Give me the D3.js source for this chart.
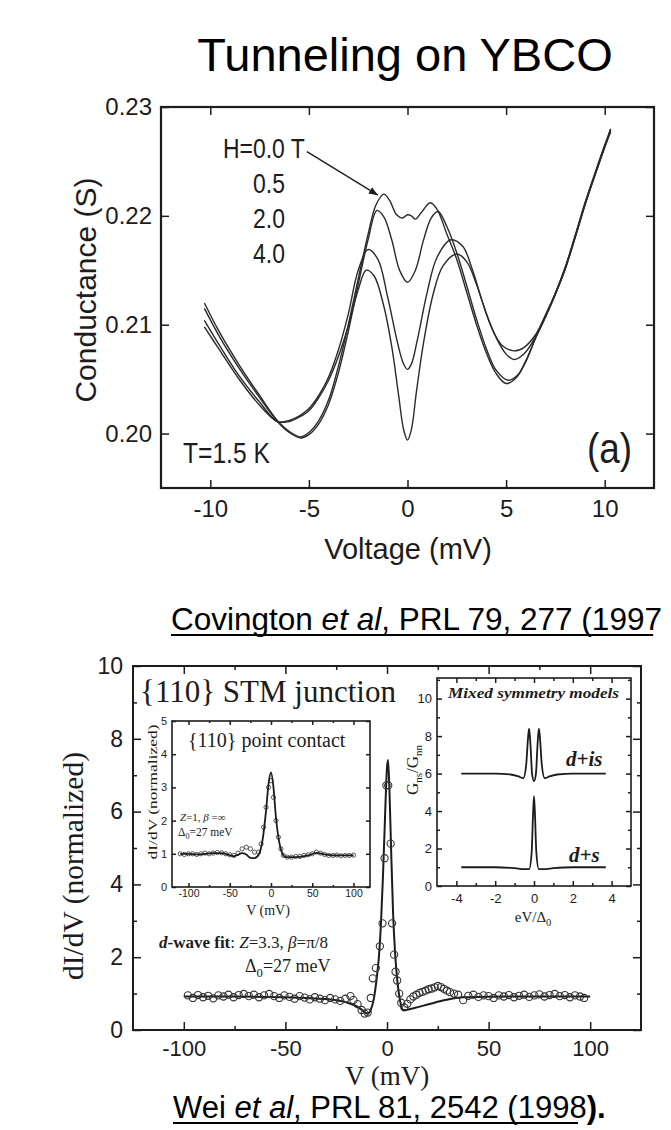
<!DOCTYPE html>
<html>
<head>
<meta charset="utf-8">
<script src="https://cdn.jsdelivr.net/npm/d3@7/dist/d3.min.js"></script>
<style>
  body { margin: 0; background: #fff; }
  svg { display: block; }
</style>
</head>
<body>
<svg id="fig" width="671" height="1130"></svg>
<script>
'use strict';

// ---------- top panel : Covington et al, conductance vs voltage ----------
// [voltage mV, conductance S], one array per field
var h00 = [[-10.3,0.2120],[-9.5,0.2092],[-8.5,0.2062],[-7.5,0.2035],[-6.6,0.2012],[-6.0,0.2002],[-5.4,0.1997],[-5.0,0.2001],
  [-4.5,0.2012],[-4.0,0.2031],[-3.5,0.2062],[-3.0,0.2100],[-2.5,0.2142],[-2.0,0.2183],[-1.6,0.2210],[-1.2,0.2220],[-0.9,0.2214],
  [-0.55,0.2201],[-0.25,0.2198],[0.0,0.2201],[0.2,0.2200],[0.4,0.2197],[0.7,0.2203],[1.15,0.2212],[1.5,0.2206],[2.0,0.2183],
  [2.5,0.2160],[3.0,0.2130],[3.5,0.2100],[4.0,0.2074],[4.5,0.2055],[5.0,0.2046],[5.5,0.2051],[6.0,0.2066],[6.5,0.2088],
  [7.0,0.2107],[7.5,0.2128],[8.0,0.2152],[8.5,0.2181],[9.0,0.2211],[9.5,0.2238],[10.0,0.2264],[10.3,0.2280]];
var h05 = [[-10.3,0.2115],[-9.5,0.2088],[-8.5,0.2059],[-7.5,0.2033],[-6.6,0.2011],[-6.0,0.2001],[-5.4,0.1996],[-5.0,0.1999],
  [-4.5,0.2009],[-4.0,0.2027],[-3.5,0.2056],[-3.0,0.2094],[-2.5,0.2137],[-2.0,0.2178],[-1.55,0.2205],[-1.2,0.2199],[-0.8,0.2178],
  [-0.4,0.2150],[0.0,0.2139],[0.4,0.2150],[0.8,0.2177],[1.2,0.2198],[1.55,0.2204],[2.0,0.2190],[2.5,0.2166],[3.0,0.2136],
  [3.5,0.2105],[4.0,0.2078],[4.5,0.2058],[5.1,0.2049],[5.6,0.2054],[6.0,0.2067],[6.5,0.2088],[7.0,0.2108],[7.5,0.2129],
  [8.0,0.2153],[8.5,0.2182],[9.0,0.2212],[9.5,0.2239],[10.0,0.2265],[10.3,0.2279]];
var h20 = [[-10.3,0.2104],[-9.5,0.2080],[-8.5,0.2052],[-7.5,0.2029],[-6.6,0.2011],[-6.0,0.2012],[-5.5,0.2016],[-5.0,0.2023],
  [-4.5,0.2035],[-4.0,0.2052],[-3.5,0.2077],[-3.0,0.2110],[-2.5,0.2150],[-2.0,0.2169],[-1.5,0.2160],[-1.0,0.2125],[-0.5,0.2083],
  [-0.2,0.2064],[0.0,0.2059],[0.2,0.2064],[0.5,0.2086],[1.0,0.2130],[1.5,0.2162],[2.2,0.2178],[2.8,0.2172],[3.3,0.2150],
  [3.8,0.2121],[4.3,0.2096],[4.8,0.2081],[5.4,0.2076],[5.9,0.2079],[6.5,0.2091],[7.0,0.2109],[7.5,0.2129],[8.0,0.2152],
  [8.5,0.2180],[9.0,0.2210],[9.5,0.2237],[10.0,0.2263],[10.3,0.2277]];
var h40 = [[-10.3,0.2098],[-9.5,0.2076],[-8.5,0.2049],[-7.5,0.2026],[-6.6,0.2011],[-6.0,0.2011],[-5.5,0.2015],[-5.0,0.2021],
  [-4.5,0.2033],[-4.0,0.2049],[-3.5,0.2071],[-3.0,0.2099],[-2.5,0.2132],[-2.1,0.2150],[-1.7,0.2145],[-1.2,0.2117],[-0.8,0.2080],
  [-0.45,0.2035],[-0.2,0.2004],[0.0,0.1994],[0.2,0.2004],[0.45,0.2038],[0.8,0.2082],[1.3,0.2128],[1.8,0.2154],[2.5,0.2165],
  [3.0,0.2158],[3.5,0.2137],[4.0,0.2110],[4.5,0.2088],[5.0,0.2073],[5.4,0.2068],[5.9,0.2073],[6.5,0.2089],[7.0,0.2108],
  [7.5,0.2128],[8.0,0.2151],[8.5,0.2180],[9.0,0.2210],[9.5,0.2237],[10.0,0.2263],[10.3,0.2278]];
var fieldLabels = ["H=0.0 T", "0.5", "2.0", "4.0"];
var topXTicks = [-10, -5, 0, 5, 10];
var topYTicks = [0.20, 0.21, 0.22, 0.23];
var arrowFrom = [-5.1, 0.2259];   // start of the H=0.0 T pointer (data units)
var arrowTo = [-1.5, 0.2219];

// ---------- bottom panel : Wei et al, {110} STM junction ----------
var mainFit = [[-100,0.92],[-80,0.92],[-60,0.91],[-50,0.90],[-40,0.88],[-30,0.85],[-25,0.82],[-20,0.76],[-16,0.68],[-13,0.58],
  [-11,0.49],[-9.5,0.45],[-8,0.55],[-6.5,0.85],[-5,1.45],[-4,2.0],[-3,2.9],[-2,4.2],[-1,5.8],[0,7.2],[0.5,7.42],[1.2,6.6],
  [2,5.0],[3,3.2],[4,2.1],[5,1.4],[6,0.95],[7,0.66],[8,0.55],[9.5,0.55],[11,0.57],[14,0.61],[18,0.67],[22,0.73],[26,0.79],
  [30,0.84],[34,0.88],[38,0.90],[45,0.91],[60,0.92],[80,0.92],[100,0.92]];
var mainPts = [[-98,0.95],[-95.5,0.88],[-93,0.96],[-90.5,0.90],[-88,0.94],[-85.5,0.87],[-83,0.95],[-80.5,0.92],[-78,0.97],
  [-75.5,0.90],[-73,0.96],[-70.5,0.99],[-68,0.93],[-65.5,0.97],[-63,0.90],[-60.5,0.95],[-58,0.99],[-55.5,0.93],[-53,0.88],
  [-50.5,0.95],[-48,0.91],[-45.5,0.86],[-43,0.93],[-40.5,0.89],[-38,0.84],[-35.5,0.90],[-33,0.86],[-30.5,0.82],[-28,0.88],
  [-25.5,0.84],[-23,0.80],[-20.5,0.86],[-18,0.93],[-16.5,0.82],[-14.5,0.71],[-12.5,0.55],[-11,0.45],[-9.5,0.48],[-8,0.88],
  [-7,1.42],[-5.5,1.70],[-3.5,2.30],[-2.2,2.93],[-1.2,4.72],[-0.3,6.72],[0.6,6.72],[1.8,5.12],[2.5,2.93],[3.5,2.07],
  [4.2,1.60],[5,1.36],[6,1.0],[7,0.75],[8.5,0.62],[10,0.72],[11.5,0.84],[13,0.92],[14.5,0.97],[16,1.02],[17.5,1.05],
  [19,1.08],[20.5,1.12],[22,1.14],[23.5,1.17],[25,1.21],[26.5,1.18],[28,1.13],[29.5,1.08],[31,1.04],[33,1.00],[35,0.97],
  [37.5,0.82],[40,0.94],[42.5,0.97],[45,0.91],[47.5,0.95],[50,0.93],[52.5,0.88],[55,0.95],[57.5,0.92],[60,0.96],
  [62.5,0.90],[65,0.94],[67.5,0.97],[70,0.91],[72.5,0.95],[75,0.98],[77.5,0.92],[80,0.96],[82.5,0.99],[85,0.93],
  [87.5,0.96],[90,0.90],[92.5,0.95],[95,0.92],[97,0.88]];
var mainXTicks = [-100, -50, 0, 50, 100];
var mainXMinor = [-75, -25, 25, 75];
var mainYTicks = [0, 2, 4, 6, 8, 10];
var mainYMinor = [1, 3, 5, 7, 9];

// left inset : {110} point contact
var pcFit = [[-110,1.0],[-100,1.0],[-90,0.98],[-80,1.0],[-70,1.02],[-60,1.02],[-50,0.96],[-45,0.93],[-40,0.97],[-35,1.02],
  [-30,0.98],[-25,0.88],[-20,0.87],[-15,0.97],[-10,1.45],[-6,2.3],[-3,3.1],[0,3.45],[3,3.0],[6,2.1],[10,1.35],[14,1.0],
  [18,0.9],[25,0.9],[35,0.91],[45,0.95],[55,1.03],[65,0.98],[75,0.95],[90,0.95],[100,0.95]];
var pcPts = [[-110,1.0],[-105,0.98],[-100,1.0],[-95,1.0],[-90,0.98],[-85,1.0],[-80,1.02],[-75,1.0],[-70,1.02],[-65,1.04],
  [-60,1.03],[-55,1.0],[-50,0.97],[-45,0.95],[-40,1.02],[-35,1.15],[-30,1.2],[-25,1.15],[-20,1.05],[-15,1.05],[-12,1.3],
  [-9,1.8],[-6,2.4],[-3,3.0],[0,3.2],[3,2.7],[6,2.0],[9,1.5],[12,1.15],[15,0.95],[20,0.9],[25,0.9],[30,0.92],[35,0.92],
  [40,0.95],[45,0.97],[50,1.0],[55,1.05],[60,1.02],[65,0.98],[70,0.95],[75,0.95],[80,0.96],[85,0.94],[90,0.95],[95,0.95],[100,0.96]];
var pcXTicks = [-100, -50, 0, 50, 100];
var pcXMinor = [-75, -25, 25, 75];
var pcYTicks = [0, 1, 2, 3, 4, 5];

// right inset : mixed symmetry models, [eV/Delta0, Gns/Gnn]
var dis = [[-3.75,6.0],[-2,6.0],[-1.2,5.95],[-0.8,5.85],[-0.55,5.75],[-0.4,6.5],[-0.3,8.0],[-0.25,8.4],[-0.18,7.5],[-0.1,6.0],
  [0,5.6],[0.1,6.0],[0.18,7.5],[0.25,8.4],[0.3,8.0],[0.4,6.5],[0.55,5.75],[0.8,5.85],[1.2,5.95],[2,6.0],[3.7,6.0]];
var ds = [[-3.75,1.0],[-2,1.0],[-1,0.95],[-0.5,0.9],[-0.25,0.9],[-0.12,1.8],[-0.05,3.8],[0,4.8],[0.05,3.8],[0.12,1.8],
  [0.25,0.9],[0.5,0.9],[1,0.95],[2,1.0],[3.7,1.0]];
var mxXTicks = [-4, -2, 0, 2, 4];
var mxXMinor = [-3, -1, 1, 3];
var mxYTicks = [0, 2, 4, 6, 8, 10];
var mxYMinor = [1, 3, 5, 7, 9, 11];


var ink = "#1c1c1c";
var sans = "'Liberation Sans', Arial, Helvetica, sans-serif";
var serif = "'Liberation Serif', 'Times New Roman', Times, serif";
var svg = d3.select("#fig");

svg.append("rect").attr("width", 671).attr("height", 1130).attr("fill", "#fff");

// draws inward ticks (and optional labels) with a d3 axis
var drawAxis = function(axisFn, translate, vals, len, fmt, fontSize, pad, font) {
  var g = svg.append("g")
      .attr("transform", translate)
      .call(axisFn.tickValues(vals).tickSize(-len).tickPadding(pad || 0).tickFormat(fmt || function() { return ""; }));
  g.select(".domain").remove();
  g.selectAll("line").attr("stroke", ink).attr("stroke-width", 1.5);
  g.attr("font-family", font || sans).attr("font-size", fontSize || 10);
  g.selectAll("text").attr("fill", ink);
  return g;
};
var plain = function(d) { return String(d); };

// horizontally squeezed text (the condensed lettering in panel a)
var narrowText = function(str, x, y, size, sx) {
  return svg.append("text")
      .attr("transform", "translate(" + x + "," + y + ") scale(" + sx + ",1)")
      .attr("font-family", sans).attr("font-size", size).attr("fill", ink)
      .text(str);
};

/* ================= top panel ================= */
svg.append("text")
    .attr("x", 405).attr("y", 71)
    .attr("text-anchor", "middle")
    .attr("font-family", sans).attr("font-size", 47).attr("fill", "#000")
    .text("Tunneling on YBCO");

var topX = d3.scaleLinear().domain([-12.5, 12.5]).range([161, 654]);
var topY = d3.scaleLinear().domain([0.195, 0.23]).range([488, 107]);

drawAxis(d3.axisBottom(topX), "translate(0,488)", topXTicks, 8, plain, 24, 12);
drawAxis(d3.axisTop(topX), "translate(0,107)", topXTicks, 8);
drawAxis(d3.axisLeft(topY), "translate(161,0)", topYTicks, 8, d3.format(".2f"), 24, 9);
drawAxis(d3.axisRight(topY), "translate(654,0)", topYTicks, 8);

svg.append("rect")
    .attr("x", topX.range()[0]).attr("y", topY.range()[1])
    .attr("width", topX.range()[1] - topX.range()[0])
    .attr("height", topY.range()[0] - topY.range()[1])
    .attr("fill", "none").attr("stroke", ink).attr("stroke-width", 2.2);

var topLine = d3.line()
    .x(function(d) { return topX(d[0]); })
    .y(function(d) { return topY(d[1]); })
    .curve(d3.curveCatmullRom.alpha(0.5));

[h00, h05, h20, h40].forEach(function(series) {
  svg.append("path")
      .attr("d", topLine(series))
      .attr("fill", "none").attr("stroke", "#2a2a2a").attr("stroke-width", 1.4);
});

// field legend + pointer
var fieldY = [158, 193, 228, 263];
fieldLabels.forEach(function(lab, i) {
  narrowText(lab, i === 0 ? 223 : 253, fieldY[i], 27, 0.85);
});
svg.append("defs").append("marker")
    .attr("id", "head").attr("viewBox", "0 0 10 10")
    .attr("refX", 10).attr("refY", 5)
    .attr("markerWidth", 7).attr("markerHeight", 7)
    .attr("orient", "auto")
  .append("path").attr("d", "M0,1L10,5L0,9z").attr("fill", ink);
svg.append("line")
    .attr("x1", topX(arrowFrom[0])).attr("y1", topY(arrowFrom[1]))
    .attr("x2", topX(arrowTo[0])).attr("y2", topY(arrowTo[1]))
    .attr("stroke", ink).attr("stroke-width", 1.3)
    .attr("marker-end", "url(#head)");

narrowText("T=1.5 K", 183, 463, 30, 0.82);
narrowText("(a)", 587, 463, 42, 0.88);

svg.append("text")
    .attr("transform", "translate(96,290) rotate(-90)")
    .attr("text-anchor", "middle")
    .attr("font-family", sans).attr("font-size", 30).attr("fill", ink)
    .text("Conductance (S)");
svg.append("text")
    .attr("x", 408).attr("y", 559)
    .attr("text-anchor", "middle")
    .attr("font-family", sans).attr("font-size", 29).attr("fill", ink)
    .text("Voltage (mV)");

// citation lines, underlined by hand
var cite = function(y, parts) {
  var t = svg.append("text")
      .attr("x", parts.x).attr("y", y)
      .attr("font-family", sans).attr("font-size", parts.size).attr("fill", "#000");
  var under = 0;
  parts.bits.forEach(function(b) {
    var s = t.append("tspan").text(b.t);
    if (b.i) s.attr("font-style", "italic");
    if (b.b) s.attr("font-weight", "bold");
    if (!b.nu) under += s.node().getComputedTextLength();
  });
  svg.append("line")
      .attr("x1", parts.x).attr("x2", parts.x + under)
      .attr("y1", y + 5).attr("y2", y + 5)
      .attr("stroke", "#000").attr("stroke-width", 1.8);
};
cite(630, { x: 171, size: 31.5, bits: [{ t: "Covington " }, { t: "et al", i: true }, { t: ", PRL 79, 277 (1997" }] });

/* ================= bottom panel ================= */
var mainX = d3.scaleLinear().domain([-125, 125]).range([133, 641]);
var mainY = d3.scaleLinear().domain([0, 10]).range([1030, 666]);

drawAxis(d3.axisBottom(mainX), "translate(0,1030)", mainXTicks, 8, plain, 22, 10);
drawAxis(d3.axisBottom(mainX), "translate(0,1030)", mainXMinor, 4);
drawAxis(d3.axisTop(mainX), "translate(0,666)", mainXTicks, 8);
drawAxis(d3.axisTop(mainX), "translate(0,666)", mainXMinor, 4);
drawAxis(d3.axisLeft(mainY), "translate(133,0)", mainYTicks, 8, plain, 23, 10);
drawAxis(d3.axisLeft(mainY), "translate(133,0)", mainYMinor, 4);
drawAxis(d3.axisRight(mainY), "translate(641,0)", mainYTicks, 8);
drawAxis(d3.axisRight(mainY), "translate(641,0)", mainYMinor, 4);

svg.append("rect")
    .attr("x", 133).attr("y", 666)
    .attr("width", mainX.range()[1] - mainX.range()[0])
    .attr("height", mainY.range()[0] - mainY.range()[1])
    .attr("fill", "none").attr("stroke", ink).attr("stroke-width", 2);

var mainLine = d3.line()
    .x(function(d) { return mainX(d[0]); })
    .y(function(d) { return mainY(d[1]); })
    .curve(d3.curveMonotoneX);
svg.append("path")
    .attr("d", mainLine(mainFit))
    .attr("fill", "none").attr("stroke", ink).attr("stroke-width", 2);
svg.append("g").selectAll("circle")
    .data(mainPts)
  .enter().append("circle")
    .attr("cx", function(d) { return mainX(d[0]); })
    .attr("cy", function(d) { return mainY(d[1]); })
    .attr("r", 3.6)
    .attr("fill", "none").attr("stroke", "#333").attr("stroke-width", 1.1);

svg.append("text")
    .attr("x", 140).attr("y", 702)
    .attr("font-family", serif).attr("font-size", 31).attr("fill", ink)
    .text("{110} STM junction");

var fit = svg.append("text")
    .attr("x", 159).attr("y", 948)
    .attr("font-family", serif).attr("font-size", 17).attr("fill", ink);
fit.append("tspan").attr("font-weight", "bold").attr("font-style", "italic").text("d");
fit.append("tspan").attr("font-weight", "bold").text("-wave fit");
fit.append("tspan").text(": ");
fit.append("tspan").attr("font-style", "italic").text("Z");
fit.append("tspan").text("=3.3, ");
fit.append("tspan").attr("font-style", "italic").text("β");
fit.append("tspan").text("=π/8");

// Delta_0 with subscript
var deltaText = function(x, y, size) {
  var t = svg.append("text")
      .attr("x", x).attr("y", y)
      .attr("font-family", serif).attr("font-size", size).attr("fill", ink);
  t.append("tspan").text("Δ");
  t.append("tspan").attr("font-size", size * 0.7).attr("dy", size * 0.3).text("0");
  t.append("tspan").attr("dy", -size * 0.3).text("=27 meV");
  return t;
};
deltaText(245, 972, 18);

svg.append("text")
    .attr("transform", "translate(83,866) rotate(-90)")
    .attr("text-anchor", "middle")
    .attr("font-family", serif).attr("font-size", 29.5).attr("fill", ink)
    .text("dI/dV (normalized)");
svg.append("text")
    .attr("x", 387).attr("y", 1085)
    .attr("text-anchor", "middle")
    .attr("font-family", serif).attr("font-size", 27).attr("fill", ink)
    .text("V (mV)");

/* ----- left inset ----- */
var pcX = d3.scaleLinear().domain([-120, 120]).range([172, 370]);
var pcY = d3.scaleLinear().domain([0, 5]).range([887, 721]);

svg.append("rect")
    .attr("x", 172).attr("y", 721).attr("width", 198).attr("height", 166)
    .attr("fill", "#fff");
drawAxis(d3.axisBottom(pcX), "translate(0,887)", pcXTicks, 4, plain, 10.5, 3);
drawAxis(d3.axisBottom(pcX), "translate(0,887)", pcXMinor, 2);
drawAxis(d3.axisTop(pcX), "translate(0,721)", pcXTicks, 4);
drawAxis(d3.axisTop(pcX), "translate(0,721)", pcXMinor, 2);
drawAxis(d3.axisLeft(pcY), "translate(172,0)", pcYTicks, 4, plain, 11, 5);
drawAxis(d3.axisRight(pcY), "translate(370,0)", pcYTicks, 4);
svg.append("rect")
    .attr("x", 172).attr("y", 721).attr("width", 198).attr("height", 166)
    .attr("fill", "none").attr("stroke", ink).attr("stroke-width", 1.6);

var pcLine = d3.line()
    .x(function(d) { return pcX(d[0]); })
    .y(function(d) { return pcY(d[1]); })
    .curve(d3.curveMonotoneX);
svg.append("g").selectAll("circle")
    .data(pcPts)
  .enter().append("circle")
    .attr("cx", function(d) { return pcX(d[0]); })
    .attr("cy", function(d) { return pcY(d[1]); })
    .attr("r", 2.1)
    .attr("fill", "none").attr("stroke", "#444").attr("stroke-width", 0.9);
svg.append("path")
    .attr("d", pcLine(pcFit))
    .attr("fill", "none").attr("stroke", ink).attr("stroke-width", 1.8);

svg.append("text")
    .attr("x", 188).attr("y", 747)
    .attr("font-family", serif).attr("font-size", 20).attr("fill", ink)
    .text("{110} point contact");
var zb = svg.append("text")
    .attr("x", 180).attr("y", 821)
    .attr("font-family", serif).attr("font-size", 11).attr("fill", ink);
zb.append("tspan").attr("font-style", "italic").text("Z");
zb.append("tspan").text("=1, ");
zb.append("tspan").attr("font-style", "italic").text("β");
zb.append("tspan").text(" =∞");
deltaText(178, 836, 11.5);
svg.append("text")
    .attr("transform", "translate(157,792) rotate(-90)")
    .attr("text-anchor", "middle")
    .attr("font-family", serif).attr("font-size", 12).attr("fill", ink)
    .attr("textLength", 135).attr("lengthAdjust", "spacingAndGlyphs")
    .text("dI/dV (normalized)");
svg.append("text")
    .attr("x", 268).attr("y", 915)
    .attr("text-anchor", "middle")
    .attr("font-family", serif).attr("font-size", 14).attr("fill", ink)
    .text("V (mV)");

/* ----- right inset ----- */
var mxX = d3.scaleLinear().domain([-5, 5]).range([437, 631]);
var mxY = d3.scaleLinear().domain([0, 11.1]).range([886, 678]);

svg.append("rect")
    .attr("x", 437).attr("y", 678).attr("width", 194).attr("height", 208)
    .attr("fill", "#fff");
drawAxis(d3.axisBottom(mxX), "translate(0,886)", mxXTicks, 5, plain, 13, 8);
drawAxis(d3.axisBottom(mxX), "translate(0,886)", mxXMinor, 3);
drawAxis(d3.axisTop(mxX), "translate(0,678)", mxXTicks, 5);
drawAxis(d3.axisTop(mxX), "translate(0,678)", mxXMinor, 3);
drawAxis(d3.axisLeft(mxY), "translate(437,0)", mxYTicks, 5, plain, 13, 5);
drawAxis(d3.axisLeft(mxY), "translate(437,0)", mxYMinor, 3);
drawAxis(d3.axisRight(mxY), "translate(631,0)", mxYTicks, 5);
drawAxis(d3.axisRight(mxY), "translate(631,0)", mxYMinor, 3);
svg.append("rect")
    .attr("x", 437).attr("y", 678).attr("width", 194).attr("height", 208)
    .attr("fill", "none").attr("stroke", ink).attr("stroke-width", 1.6);

var mxLine = d3.line()
    .x(function(d) { return mxX(d[0]); })
    .y(function(d) { return mxY(d[1]); })
    .curve(d3.curveMonotoneX);
[dis, ds].forEach(function(series) {
  svg.append("path")
      .attr("d", mxLine(series))
      .attr("fill", "none").attr("stroke", ink).attr("stroke-width", 1.8);
});

svg.append("text")
    .attr("x", 448).attr("y", 698)
    .attr("font-family", serif).attr("font-size", 14)
    .attr("font-weight", "bold").attr("font-style", "italic").attr("fill", ink)
    .attr("textLength", 171).attr("lengthAdjust", "spacingAndGlyphs")
    .text("Mixed symmetry models");
svg.append("text")
    .attr("x", 566).attr("y", 766)
    .attr("font-family", serif).attr("font-size", 21)
    .attr("font-weight", "bold").attr("font-style", "italic").attr("fill", ink)
    .text("d+is");
svg.append("text")
    .attr("x", 569).attr("y", 862)
    .attr("font-family", serif).attr("font-size", 21)
    .attr("font-weight", "bold").attr("font-style", "italic").attr("fill", ink)
    .text("d+s");

var gl = svg.append("text")
    .attr("transform", "translate(418,770) rotate(-90)")
    .attr("text-anchor", "middle")
    .attr("font-family", serif).attr("font-size", 17).attr("fill", ink);
gl.append("tspan").text("G");
gl.append("tspan").attr("font-size", 11).attr("dy", 4).text("ns");
gl.append("tspan").attr("dy", -4).text("/G");
gl.append("tspan").attr("font-size", 11).attr("dy", 4).text("nn");

var ev = svg.append("text")
    .attr("x", 533).attr("y", 922)
    .attr("text-anchor", "middle")
    .attr("font-family", serif).attr("font-size", 15).attr("fill", ink);
ev.append("tspan").text("eV/Δ");
ev.append("tspan").attr("font-size", 10.5).attr("dy", 4).text("0");

cite(1118, { x: 173, size: 31, bits: [{ t: "Wei " }, { t: "et al", i: true }, { t: ", PRL 81, 2542 (1998" }, { t: ").", b: true, nu: true }] });
</script>
</body>
</html>
